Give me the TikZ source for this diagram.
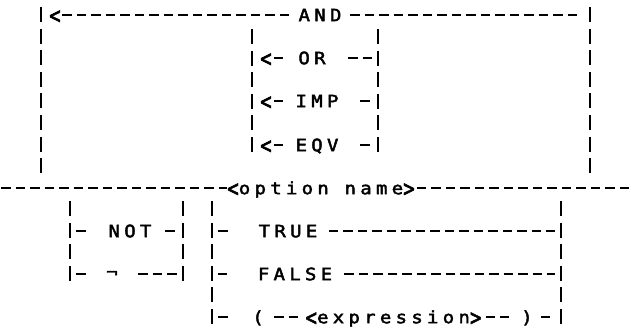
\documentclass[tikz,border=0pt]{standalone}
\usepackage{fontspec}
\usepackage{graphicx}
\usetikzlibrary{positioning}
\newfontfamily\plotter{DejaVu Sans Mono}[FakeStretch=1.12,FakeBold=2.5,LetterSpace=25]
\newcommand{\ltag}{\raisebox{-2.5pt}{\scalebox{1}[1.4]{<}}}
\newcommand{\rtag}{\raisebox{-2.5pt}{\scalebox{1}[1.4]{>}}}

\begin{document}
\begin{tikzpicture}[x=1pt,y=-1pt,
    word/.style={font=\plotter\fontsize{17}{19}\selectfont,inner sep=0pt,
      text height=12.4pt,text depth=0pt,minimum width=#1*14.3pt},
    word/.default=1,
    rail/.style={line width=2.4pt,dash pattern=on 9.5pt off 5pt},
    bar/.style={line width=1.9pt,dash pattern=on 15pt off 6.6pt}
  ]
  \useasboundingbox (0,0) rectangle (632,328);

  % upper loop: AND / OR / IMP / EQV
  \coordinate (olt) at (41,7);   \coordinate (olb) at (41,174);
  \coordinate (ort) at (590,7);  \coordinate (orb) at (590,174);
  \coordinate (ilt) at (252,29); \coordinate (ilb) at (252,153);
  \coordinate (irt) at (378,29); \coordinate (irb) at (378,153);
  \foreach \t/\b in {olt/olb,ort/orb,ilt/ilb,irt/irb}
    \draw[bar] (\t) -- (\b);

  \node[word]   (tip0) at (55,15)   {\ltag};
  \node[word=3] (andw) at (320,15)  {AND};
  \node[word]   (tip1) at (266,58)  {\ltag};
  \node[word=2] (orw)  at (312,58)  {OR};
  \node[word]   (tip2) at (266,101) {\ltag};
  \node[word=3] (impw) at (317,101) {IMP};
  \node[word]   (tip3) at (266,145) {\ltag};
  \node[word=3] (eqvw) at (317,145) {EQV};

  \draw[rail,shorten >=9.45pt] (tip0) -- (andw);
  \draw[rail,shorten <=8.55pt,shorten >=13pt] (andw) -- (ort |- andw);
  \draw[rail,shorten <=1pt,shorten >=14.2pt] (tip1) -- (orw);
  \draw[rail,shorten <=21.7pt,shorten >=6pt] (orw) -- (irt |- orw);
  \draw[rail,shorten <=1pt,shorten >=12pt] (tip2) -- (impw);
  \draw[rail,shorten <=21.5pt,shorten >=8.5pt] (impw) -- (irt |- impw);
  \draw[rail,shorten <=1pt,shorten >=12pt] (tip3) -- (eqvw);
  \draw[rail,shorten <=21.5pt,shorten >=8.5pt] (eqvw) -- (irt |- eqvw);

  % main line
  \coordinate (lin) at (1,188);
  \coordinate (lout) at (628.5,188);
  \node[word=13] (optname) at (321,188) {\ltag option name\rtag};
  \draw[rail] (lin) -- (optname);
  \draw[rail,shorten <=2pt] (optname) -- (lout);

  % lower part: NOT / TRUE / FALSE / expression
  \coordinate (nlt) at (70,201);  \coordinate (nlb) at (70,282);
  \coordinate (nrt) at (183,201); \coordinate (nrb) at (183,282);
  \coordinate (tlt) at (212,201); \coordinate (tlb) at (212,325);
  \coordinate (trt) at (561,201); \coordinate (trb) at (561,325);
  \foreach \t/\b in {nlt/nlb,nrt/nrb,tlt/tlb,trt/trb}
    \draw[bar] (\t) -- (\b);

  \node[word=3]  (notw)   at (130,231)   {NOT};
  \node[word]    (negw)   at (112,274)   {\raisebox{2pt}{¬}};
  \node[word=4]  (truew)  at (288,231)   {TRUE};
  \node[word=5]  (falsew) at (295,274)   {FALSE};
  \node[word]    (lpar)   at (258,317)   {(};
  \node[word=12] (expr)   at (393.5,317) {\ltag expression\rtag};
  \node[word]    (rpar)   at (527,317)   {)};

  \draw[rail,shorten <=6pt,shorten >=21.6pt] (nlt |- notw) -- (notw);
  \draw[rail,shorten <=13.5pt,shorten >=6pt] (notw) -- (nrt |- notw);
  \draw[rail,shorten <=6pt,shorten >=18pt] (nlt |- negw) -- (negw);
  \draw[rail,shorten <=18.8pt,shorten >=6pt] (negw) -- (nrt |- negw);
  \draw[rail,shorten <=6pt,shorten >=31pt] (tlt |- truew) -- (truew);
  \draw[rail,shorten <=11.4pt,shorten >=6pt] (truew) -- (trt |- truew);
  \draw[rail,shorten <=6pt,shorten >=31pt] (tlt |- falsew) -- (falsew);
  \draw[rail,shorten <=11.75pt,shorten >=6pt] (falsew) -- (trt |- falsew);
  \draw[rail,shorten <=6pt,shorten >=22.4pt] (tlt |- lpar) -- (lpar);
  \draw[rail,shorten <=8.8pt,shorten >=6pt] (lpar) -- (expr);
  \draw[rail,shorten <=4pt,shorten >=10.9pt] (expr) -- (rpar);
  \draw[rail,shorten <=6.8pt,shorten >=11.5pt] (rpar) -- (trt |- rpar);
\end{tikzpicture}
\end{document}
